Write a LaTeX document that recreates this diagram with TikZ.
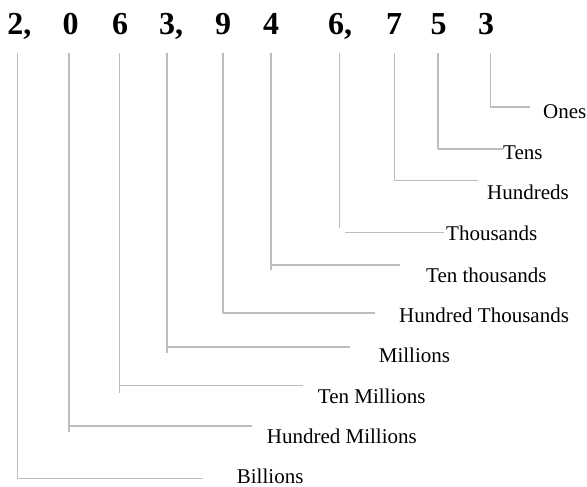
\documentclass[tikz,border=0pt]{standalone}
\usepackage{fontspec}
\setmainfont{Liberation Serif}
\definecolor{leadgray}{RGB}{190,190,190}
\begin{document}
\begin{tikzpicture}[x=1pt,y=-1pt,
  digit/.style={anchor=base,inner sep=0pt,font=\fontsize{32}{32}\selectfont\bfseries},
  place/.style={anchor=base west,inner sep=0pt,font=\fontsize{21}{21}\selectfont},
  lead/.style={draw=leadgray,line width=1.6pt}]
\useasboundingbox (0,0) rectangle (587,487);
% digits
\foreach \n/\x/\t in {1/15.5/2\rlap{,},2/70.7/0,3/120/6,4/167/3\rlap{,},5/223/9,6/271/4,7/336/6\rlap{,},8/394/7,9/438.7/5,10/486/3}
  \node[digit] (d\n) at (\x,34.3) {\t};
% place labels and leaders
\foreach \n/\x/\vb/\hy/\ha/\hb/\lx/\lb/\txt in {
  10/490.3/107.3/107.3/490.3/530/543/118/Ones,
  9/437.7/149/149/437.7/503/503/160/Tens,
  8/394.3/180.3/180.3/394.3/478/487/199/Hundreds,
  7/339.3/228/232.3/345.3/444/446/240.7/Thousands,
  6/270.7/269.7/264.7/270.7/400/426/282/Ten thousands,
  5/222.7/313/313/222.7/375/399/322/Hundred Thousands,
  4/166.7/353.3/346.7/166.7/350.3/378.7/362/Millions,
  3/119.3/393.3/385.3/119.3/302.7/317.7/403/Ten Millions,
  2/68.7/432/425.7/68.7/252/266.7/443/Hundred Millions,
  1/17.3/479/478.3/17.3/202.7/236.7/483.5/Billions}{
  \node[place] (l\n) at (\lx,\lb) {\txt};
  \coordinate (vt\n) at (\x,53);
  \coordinate (vb\n) at (\x,\vb);
  \coordinate (ha\n) at (\ha,\hy);
  \coordinate (hb\n) at (\hb,\hy);
  \draw[lead] (vt\n) -- (vb\n);
  \draw[lead] (ha\n) -- (hb\n);
}
\end{tikzpicture}
\end{document}
